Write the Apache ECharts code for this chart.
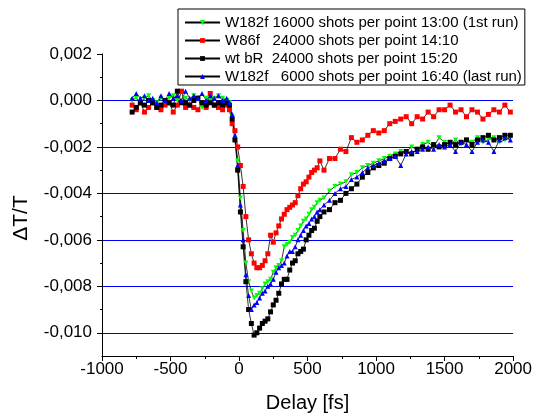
<!DOCTYPE html>
<html><head><meta charset="utf-8">
<script src="https://cdn.jsdelivr.net/npm/echarts@6/dist/echarts.min.js"></script>
<style>html,body{margin:0;padding:0;background:#fff}#c{width:535px;height:418px}</style>
</head><body><div id="c"></div>
<script>
const delay = [-780,-750,-720,-690,-660,-630,-600,-570,-540,-510,-480,-450,-420,-390,-360,-330,-300,-270,-240,-210,-180,-150,-120,-90,
  -70,-50,-30,-10,10,30,50,70,90,110,130,150,170,190,210,230,250,270,290,310,330,350,370,390,410,430,450,470,490,510,530,550,570,590,
  620,660,700,740,780,820,860,900,940,980,1020,1060,1100,1140,1180,1220,1260,1300,1340,1380,1420,1460,1500,1540,1580,1620,1660,1700,1740,1780,1820,1860,1900,1940,1980];

const w182fFirst = [0.0000,0.0001,-0.0001,0.0001,0.0002,0.0000,-0.0001,0.0001,0.0000,0.0001,0.0002,0.0000,-0.0001,0.0001,0.0000,0.0002,0.0001,-0.0003,0.0001,0.0000,0.0001,0.0002,0.0001,0.0000,
  -0.0001,-0.0007,-0.0014,-0.0026,-0.0042,-0.0056,-0.0070,-0.0078,-0.0082,-0.0085,-0.0084,-0.0083,-0.0081,-0.0079,-0.0078,-0.0077,-0.0074,-0.0072,-0.0071,-0.0069,-0.0063,-0.0062,-0.0061,-0.0059,-0.0058,-0.0056,-0.0054,-0.0052,-0.0051,-0.0049,-0.0047,-0.0046,-0.0044,-0.0043,
  -0.0042,-0.0039,-0.0037,-0.0036,-0.0035,-0.0032,-0.0031,-0.0029,-0.0028,-0.0027,-0.0026,-0.0025,-0.0024,-0.0023,-0.0022,-0.0022,-0.0020,-0.0021,-0.0019,-0.0018,-0.0020,-0.0016,-0.0018,-0.0019,-0.0017,-0.0019,-0.0017,-0.0018,-0.0016,-0.0018,-0.0017,-0.0016,-0.0018,-0.0017,-0.0016];

const w86f = [-0.0002,-0.0004,-0.0001,-0.0005,-0.0003,-0.0001,-0.0003,-0.0004,-0.0002,-0.0001,-0.0005,-0.0002,0.0004,-0.0003,-0.0002,-0.0003,-0.0004,-0.0001,-0.0003,0.0003,-0.0002,-0.0003,-0.0004,-0.0002,
  -0.0004,-0.0010,-0.0013,-0.0020,-0.0028,-0.0037,-0.0050,-0.0060,-0.0066,-0.0070,-0.0072,-0.0072,-0.0071,-0.0069,-0.0066,-0.0058,-0.0061,-0.0057,-0.0054,-0.0051,-0.0049,-0.0047,-0.0046,-0.0045,-0.0044,-0.0041,-0.0038,-0.0036,-0.0035,-0.0033,-0.0031,-0.0030,-0.0029,-0.0026,
  -0.0030,-0.0025,-0.0025,-0.0021,-0.0022,-0.0016,-0.0018,-0.0017,-0.0015,-0.0013,-0.0014,-0.0013,-0.0010,-0.0009,-0.0008,-0.0007,-0.0010,-0.0007,-0.0008,-0.0005,-0.0007,-0.0004,-0.0004,-0.0002,-0.0005,-0.0004,-0.0007,-0.0004,-0.0005,-0.0008,-0.0006,-0.0004,-0.0005,-0.0002,-0.0005];

const wtBR = [-0.0005,-0.0003,-0.0001,-0.0002,0.0000,-0.0001,-0.0003,-0.0002,0.0000,-0.0001,-0.0002,0.0004,-0.0001,-0.0001,-0.0002,0.0000,0.0001,-0.0001,-0.0002,-0.0001,-0.0002,-0.0001,-0.0002,-0.0001,
  -0.0002,-0.0008,-0.0017,-0.0030,-0.0048,-0.0063,-0.0078,-0.0090,-0.0096,-0.0101,-0.0100,-0.0098,-0.0096,-0.0095,-0.0094,-0.0091,-0.0088,-0.0086,-0.0083,-0.0079,-0.0077,-0.0077,-0.0073,-0.0070,-0.0069,-0.0066,-0.0065,-0.0064,-0.0060,-0.0058,-0.0056,-0.0055,-0.0052,-0.0050,
  -0.0048,-0.0047,-0.0044,-0.0043,-0.0040,-0.0038,-0.0036,-0.0033,-0.0031,-0.0029,-0.0028,-0.0027,-0.0025,-0.0024,-0.0023,-0.0022,-0.0023,-0.0021,-0.0020,-0.0021,-0.0019,-0.0020,-0.0019,-0.0018,-0.0019,-0.0018,-0.0017,-0.0019,-0.0017,-0.0016,-0.0015,-0.0017,-0.0016,-0.0015,-0.0015];

const w182fLast = [0.0001,0.0003,0.0001,0.0002,0.0000,0.0001,-0.0001,0.0002,0.0000,0.0003,0.0001,0.0002,0.0000,0.0004,0.0001,0.0002,0.0001,0.0003,0.0000,0.0002,0.0001,0.0002,0.0000,0.0001,
  -0.0001,-0.0006,-0.0015,-0.0028,-0.0045,-0.0060,-0.0075,-0.0084,-0.0090,-0.0088,-0.0087,-0.0085,-0.0083,-0.0082,-0.0080,-0.0079,-0.0077,-0.0074,-0.0072,-0.0071,-0.0070,-0.0067,-0.0065,-0.0065,-0.0063,-0.0060,-0.0058,-0.0056,-0.0054,-0.0053,-0.0051,-0.0050,-0.0048,-0.0047,
  -0.0045,-0.0043,-0.0040,-0.0038,-0.0037,-0.0034,-0.0033,-0.0031,-0.0029,-0.0028,-0.0027,-0.0026,-0.0025,-0.0024,-0.0028,-0.0023,-0.0022,-0.0022,-0.0021,-0.0020,-0.0021,-0.0019,-0.0020,-0.0019,-0.0022,-0.0018,-0.0019,-0.0022,-0.0018,-0.0017,-0.0018,-0.0022,-0.0017,-0.0016,-0.0017];

const seriesNames = [
  'W182f 16000 shots per point 13:00 (1st run)',
  'W86f   24000 shots per point 14:10',
  'wt bR  24000 shots per point 15:20',
  'W182f   6000 shots per point 16:40 (last run)'
];
const yMajorTicks = [-0.010, -0.008, -0.006, -0.004, -0.002, 0, 0.002];
const yMinorTicks = [-0.009, -0.007, -0.005, -0.003, -0.001, 0.001];

const FONT = '"Liberation Sans", Arial, sans-serif';
const chart = echarts.init(document.getElementById('c'), null, {renderer: 'canvas'});

function mk(name, vals, color, symbol, rotate, lineColor) {
  return {
    name: name, type: 'line', yAxisIndex: 0, z: 3,
    data: delay.map((t, i) => [t, vals[i]]),
    symbol: symbol, symbolSize: 5, symbolRotate: rotate,
    showSymbol: true, showAllSymbol: true,
    itemStyle: {color: color, borderWidth: 0},
    lineStyle: {color: lineColor, width: 0.8},
    emphasis: {disabled: true},
    animation: false
  };
}

chart.setOption({
  animation: false,
  backgroundColor: '#fff',
  grid: {left: 102, right: 21, top: 54, bottom: 60, containLabel: false},
  legend: {
    orient: 'vertical', left: 178, top: 9,
    padding: [6, 3, 1, 6], itemGap: 3, itemWidth: 35, itemHeight: 6,
    borderColor: '#000', borderWidth: 1,
    textStyle: {fontSize: 15, color: '#000', fontFamily: FONT, lineHeight: 15},
    data: seriesNames, selectedMode: false
  },
  xAxis: {
    type: 'value', min: -1000, max: 2000, interval: 500,
    name: 'Delay [fs]', nameLocation: 'middle', nameGap: 37,
    nameTextStyle: {fontSize: 20, color: '#000', fontFamily: FONT},
    axisLine: {show: true, onZero: false, lineStyle: {color: '#000', width: 1}},
    axisTick: {show: true, length: 5, lineStyle: {color: '#000'}},
    minorTick: {show: true, splitNumber: 2, length: 3, lineStyle: {color: '#000'}},
    axisLabel: {fontSize: 17, color: '#000', fontFamily: FONT, margin: 5, formatter: v => String(v)},
    splitLine: {show: false}
  },
  yAxis: [{
    type: 'value', min: -0.011, max: 0.002,
    name: 'ΔT/T', nameLocation: 'middle', nameGap: 70,
    nameTextStyle: {fontSize: 21, color: '#000', fontFamily: FONT, padding: [0, 26, 0, 0]},
    axisLine: {show: true, onZero: false, lineStyle: {color: '#000', width: 1}},
    axisTick: {show: true, length: 5, customValues: yMajorTicks, lineStyle: {color: '#000'}},
    axisLabel: {customValues: yMajorTicks, fontSize: 17, color: '#000', fontFamily: FONT, margin: 10,
      formatter: v => v.toFixed(3).replace('.', ',')},
    splitLine: {show: true, showMinLine: true, showMaxLine: false, lineStyle: {color: '#0000ff', width: 1, type: 'solid'}}
  }, {
    type: 'value', min: -0.011, max: 0.002, position: 'left',
    axisLine: {show: false, onZero: false},
    axisTick: {show: true, length: 2, customValues: yMinorTicks, lineStyle: {color: '#000'}},
    axisLabel: {show: false},
    splitLine: {show: false}
  }],
  series: [
    mk(seriesNames[0], w182fFirst, '#00ff00', 'triangle', 180, '#000'),
    mk(seriesNames[1], w86f, '#ff0000', 'rect', 0, '#000'),
    mk(seriesNames[2], wtBR, '#000000', 'rect', 0, '#000'),
    mk(seriesNames[3], w182fLast, '#0000ff', 'triangle', 0, '#000')
  ]
});
</script></body></html>
